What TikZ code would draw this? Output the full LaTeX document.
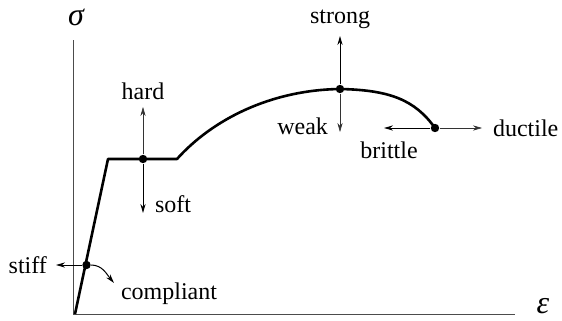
\documentclass[tikz,border=0pt]{standalone}
\usepackage{fontspec}
\setmainfont{Liberation Serif}
\newfontfamily\lblfont{Liberation Serif}
\usepackage{tikz}
\usetikzlibrary{arrows.meta, positioning}

\begin{document}
\begin{tikzpicture}[x=0.5pt, y=-0.5pt, >={Stealth[length=4.5pt,width=2.6pt]},
    every node/.style={font=\lblfont\fontsize{12}{14}\selectfont},
    axis/.style={line width=0.4pt, black!70},
    curve/.style={line width=1.3pt, line join=round},
    prop/.style={->, line width=0.5pt},
    propthin/.style={->, line width=0.3pt, black!80},
    pt/.style={circle, fill, inner sep=0pt, minimum size=4.2pt},
    greek/.style={font=\lblfont\fontsize{16}{18}\selectfont\itshape, inner sep=1pt}]
  \useasboundingbox (0,0) rectangle (562,321);
  % axes
  \coordinate (o) at (73,314);
  \coordinate (ytop) at (73,40);
  \coordinate (xend) at (515,314);
  \draw[axis] (ytop) -- (o) -- (xend);
  \node[greek] (sig) at (76,17) {σ};
  \node[greek] (eps) at (543,306) {ε};
  % stress-strain curve
  \coordinate (start) at (75,314);
  \coordinate (yld) at (108,159);
  \coordinate (plend) at (177,159);
  \coordinate (peak) at (340,89);
  \coordinate (brk) at (435,128);
  \draw[curve] (start) -- (yld) -- (plend)
    .. controls (212,120) and (270,90) .. (peak)
    .. controls (390,90) and (415,100) .. (brk);
  % points on the curve
  \node[pt] (stiffpt) at (86.5,265) {};
  \node[pt] (hardpt) at (143,159) {};
  \node[pt] (peakpt) at (peak) {};
  \node[pt] (brkpt) at (brk) {};
  % stiff / compliant
  \coordinate (stifftip) at (56,265);
  \coordinate (compltip) at (114,283);
  \draw[prop] (stiffpt) -- (stifftip);
  \draw[prop] (stiffpt) to[out=0, in=130] (compltip);
  \node[left=1pt of stifftip] (stiff) {stiff};
  \node[anchor=north west] (compl) at (114,276) {compliant};
  % hard / soft
  \coordinate (hardtip) at (143,107);
  \coordinate (softtip) at (143,213);
  \draw[propthin] (hardpt) -- (hardtip);
  \draw[prop] (hardpt) -- (softtip);
  \node[above=0pt of hardtip] (hard) {hard};
  \node[anchor=west] (soft) at (148,204) {soft};
  % strong / weak
  \coordinate (strongtip) at (340,36);
  \coordinate (weaktip) at (340,132);
  \draw[prop] (peakpt) -- (strongtip);
  \draw[propthin] (peakpt) -- (weaktip);
  \node[above=0pt of strongtip] (strong) {strong};
  \node[anchor=east] (weak) at (335,126) {weak};
  % brittle / ductile
  \coordinate (britttip) at (384,128);
  \coordinate (ducttip) at (482,128);
  \draw[prop] (brkpt) -- (britttip);
  \draw[propthin] (brkpt) -- (ducttip);
  \node[anchor=north] (brittle) at (389,135) {brittle};
  \node[right=2pt of ducttip] (ductile) {ductile};
\end{tikzpicture}
\end{document}
